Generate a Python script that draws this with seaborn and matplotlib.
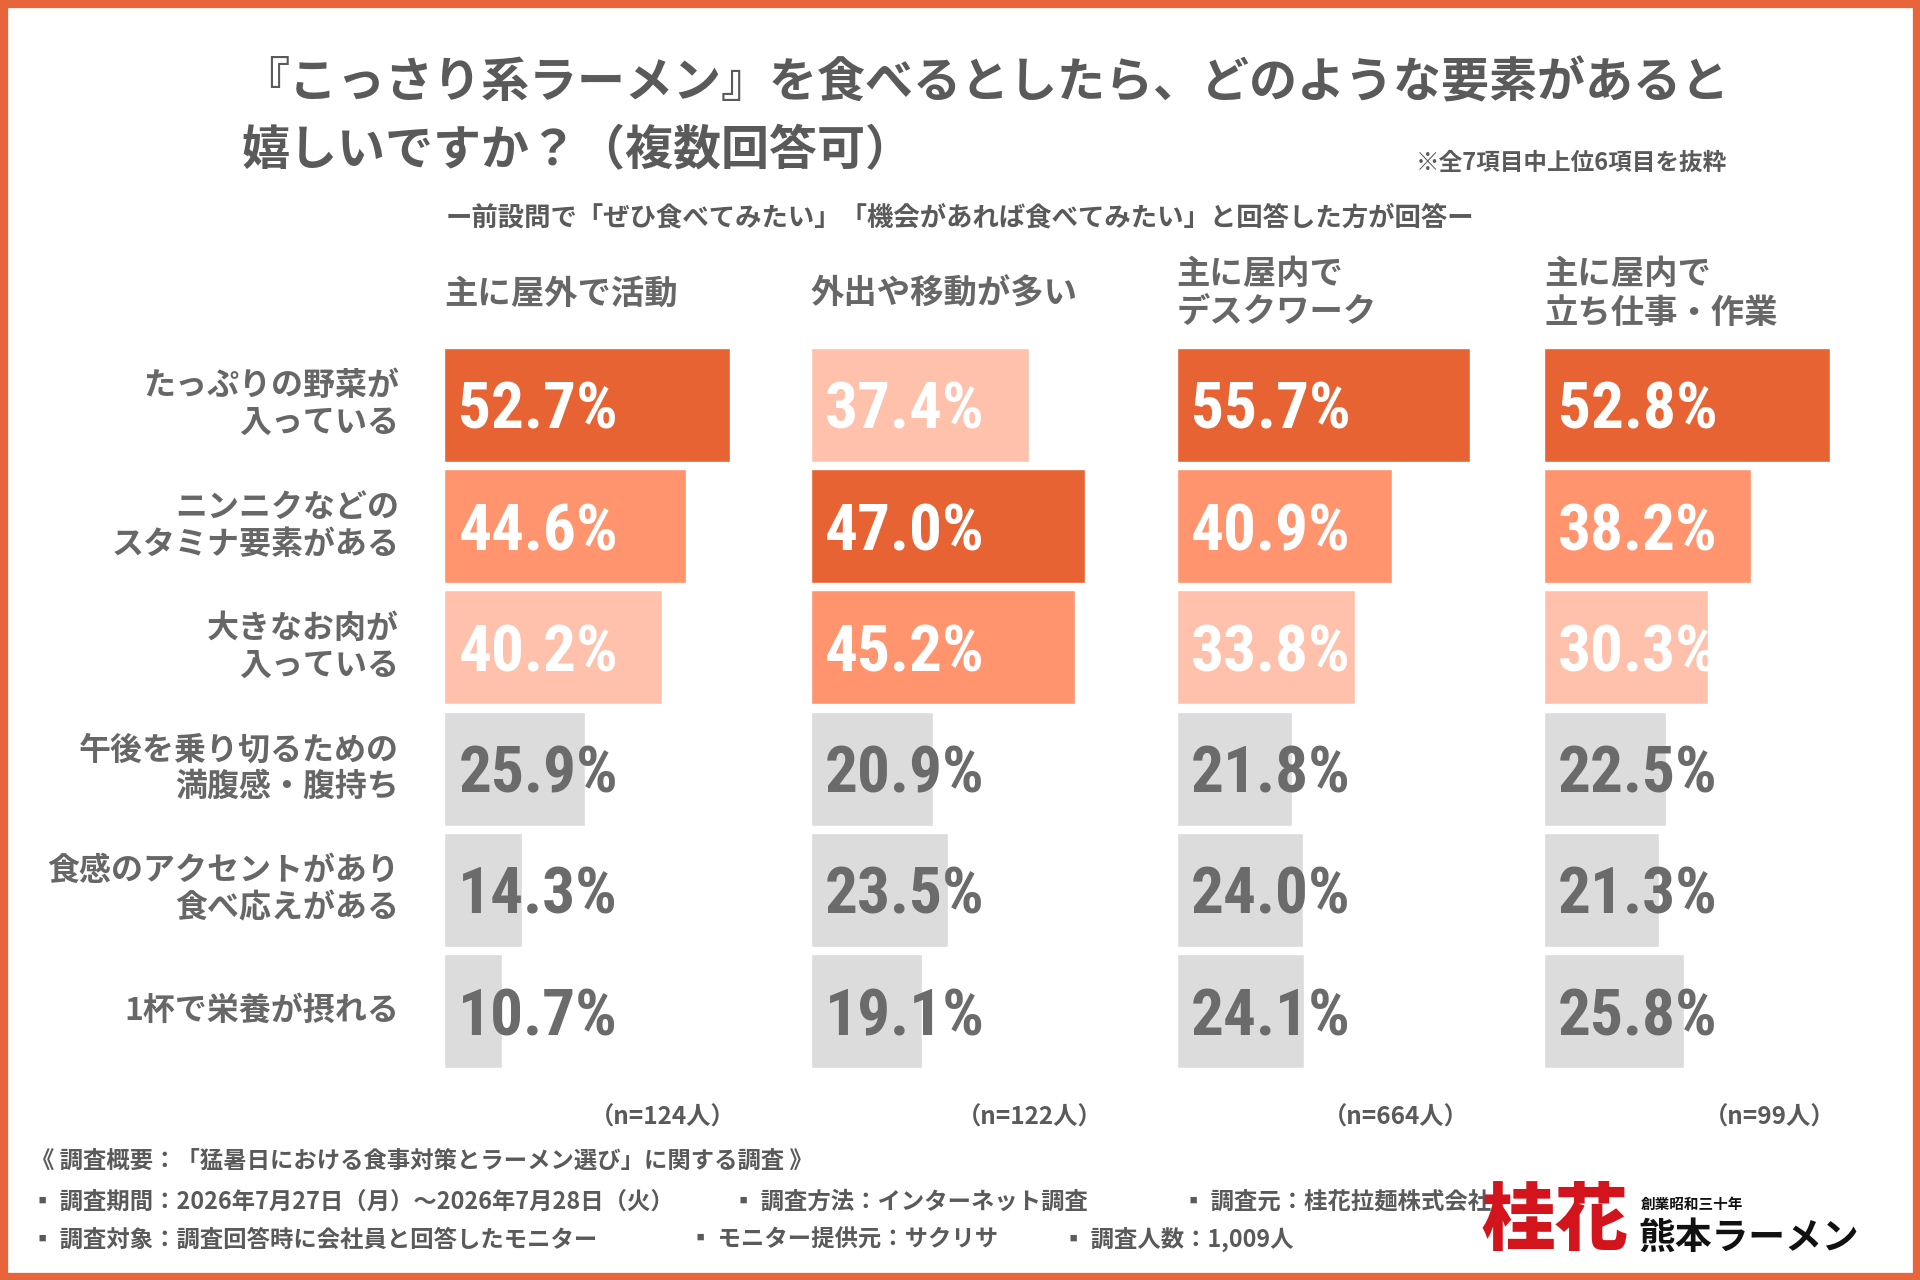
import numpy as np
import pandas as pd
import matplotlib
matplotlib.use('Agg')
import matplotlib.pyplot as plt
import seaborn as sns
from matplotlib import font_manager
from matplotlib.patches import Rectangle


groups = ['主に屋外で活動', '外出や移動が多い', '主に屋内で\nデスクワーク', '主に屋内で\n立ち仕事・作業']
items = ['たっぷりの野菜が\n入っている', 'ニンニクなどの\nスタミナ要素がある', '大きなお肉が\n入っている',
         '午後を乗り切るための\n満腹感・腹持ち', '食感のアクセントがあり\n食べ応えがある', '1杯で栄養が摂れる']
outdoor = [52.7, 44.6, 40.2, 25.9, 14.3, 10.7]
moving = [37.4, 47.0, 45.2, 20.9, 23.5, 19.1]
desk = [55.7, 40.9, 33.8, 21.8, 24.0, 24.1]
standing = [52.8, 38.2, 30.3, 22.5, 21.3, 25.8]
sample_sizes = ['（n=124人）', '（n=122人）', '（n=664人）', '（n=99人）']

title_1 = '『こっさり系ラーメン』を食べるとしたら、どのような要素があると'
title_2 = '嬉しいですか？（複数回答可）'
note = '※全7項目中上位6項目を抜粋'
subtitle = 'ー前設問で「ぜひ食べてみたい」「機会があれば食べてみたい」と回答した方が回答ー'
footer_head = '《 調査概要：「猛暑日における食事対策とラーメン選び」に関する調査 》'
footer_items = [
    ('▪ 調査期間：2026年7月27日（月）～2026年7月28日（火）', 25, 981),
    ('▪ 調査方法：インターネット調査', 598, 981),
    ('▪ 調査元：桂花拉麺株式会社', 965, 981),
    ('▪ 調査対象：調査回答時に会社員と回答したモニター', 25, 1012),
    ('▪ モニター提供元：サクリサ', 563, 1012),
    ('▪ 調査人数：1,009人', 867, 1012),
]

# colours by rank inside each column: 1st, 2nd, 3rd, rest
rank_colors = ['#E76333', '#FF946E', '#FFC1AC', '#DCDCDC']
orange = '#E8643A'
text_gray = '#5A5A5A'
label_gray = '#676767'

sns.set_style('white')
plt.rcParams['font.family'] = ['Noto Sans CJK JP', 'DejaVu Sans']
plt.rcParams['font.weight'] = 'bold'


# narrow font for the big percentages, if one is around
def pick_narrow():
    best, best_score = None, -1
    prefs = ['roboto', 'open sans', 'opensans', 'liberation', 'dejavu']
    for f in font_manager.fontManager.ttflist:
        low = (f.name + ' ' + f.fname).lower()
        if 'italic' in low or 'oblique' in low:
            continue
        if not ('condensed' in low or 'narrow' in low or f.stretch in ('condensed', 'semi-condensed')):
            continue
        w = f.weight if isinstance(f.weight, int) else 400
        score = 0
        if 'extracondensed' in low.replace(' ', '').replace('-', ''):
            score -= 5
        score += 10 if 600 <= w <= 750 else (5 if w > 750 else 0)
        for j, p in enumerate(prefs):
            if p in low:
                score += len(prefs) - j
                break
        if score > best_score:
            best, best_score = f, score
    return best


nf = pick_narrow()
num_size = 47
if nf is not None:
    num_prop = font_manager.FontProperties(fname=nf.fname, size=num_size)
else:
    num_prop = font_manager.FontProperties(family='DejaVu Sans', weight='bold',
                                           stretch='condensed', size=num_size)

W, H = 1568, 1045


def fx(x):
    return x / W


def fy(y):
    return 1 - y / H


fig = plt.figure(figsize=(19.2, 12.8), dpi=100)
fig.patch.set_facecolor('white')
fig.patches.append(Rectangle((0, 0), 1, 1, transform=fig.transFigure, fill=False,
                             edgecolor=orange, linewidth=11, zorder=10))

col_x = [363, 662, 961, 1261]
xlims = [65.5, 60.8, 67.4, 65.6]
ax_w = 290
ax_top, ax_bot = 281, 875

for k, vals in enumerate([outdoor, moving, desk, standing]):
    ax = fig.add_axes([fx(col_x[k]), fy(ax_bot), fx(ax_w), (ax_bot - ax_top) / H])
    order = np.argsort(vals)[::-1]
    rank = np.empty(len(vals), dtype=int)
    rank[order] = np.arange(len(vals))
    colors = [rank_colors[min(r, 3)] for r in rank]
    df = pd.DataFrame({'item': items, 'value': vals})
    sns.barplot(data=df, y='item', x='value', hue='item', palette=colors, legend=False,
                orient='h', width=0.94, saturation=1, ax=ax)
    ax.set_xlim(0, xlims[k])
    ax.set_ylim(5.5, -0.5)
    ax.axis('off')
    for i, v in enumerate(vals):
        c = 'white' if rank[i] < 3 else '#6B6B6B'
        ax.annotate(f'{v:.1f}%', xy=(0, i), xytext=(10, 0), textcoords='offset points',
                    ha='left', va='center_baseline', color=c, fontproperties=num_prop)
    fig.text(fx(col_x[k]), fy(240), groups[k], ha='left', va='center', fontsize=24,
             color=label_gray, linespacing=1.2)
    fig.text(fx(col_x[k] + 238), fy(912), sample_sizes[k], ha='right', va='center',
             fontsize=17.5, color=text_gray)

pitch = (ax_bot - ax_top) / 6
for i, lab in enumerate(items):
    fig.text(fx(326), fy(ax_top + pitch * (i + 0.5)), lab, ha='right', va='center',
             fontsize=23, color=label_gray, linespacing=1.2)

fig.text(fx(197), fy(68), title_1, ha='left', va='center', fontsize=34.6, color=text_gray)
fig.text(fx(197), fy(123), title_2, ha='left', va='center', fontsize=34.6, color=text_gray)
fig.text(fx(1410), fy(133), note, ha='right', va='center', fontsize=17, color=text_gray)
fig.text(fx(784), fy(178), subtitle, ha='center', va='center', fontsize=19, color=text_gray)

fig.text(fx(25), fy(948), footer_head, ha='left', va='center', fontsize=16.8, color=text_gray)
for txt, x, y in footer_items:
    fig.text(fx(x), fy(y), txt, ha='left', va='center', fontsize=16.8, color=text_gray)

# logo as text
fig.text(fx(1210), fy(998), '桂花', ha='left', va='center', fontsize=53,
         color='#D3141C', fontweight='heavy')
fig.text(fx(1340), fy(983), '創業昭和三十年', ha='left', va='center', fontsize=10.5, color='#111111')
fig.text(fx(1338), fy(1011), '熊本ラーメン', ha='left', va='center', fontsize=26.5, color='#111111')

fig.savefig('out.png', dpi=100, facecolor='white')
